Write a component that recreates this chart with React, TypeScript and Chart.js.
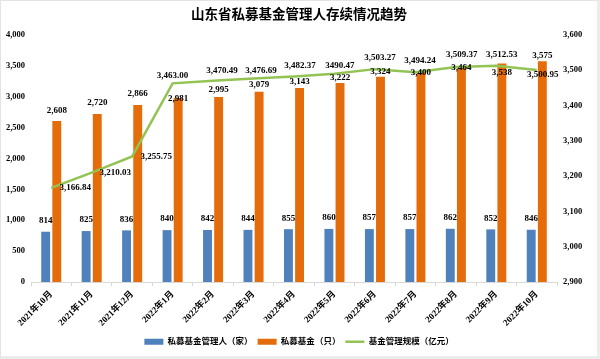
import React, { useEffect, useRef } from 'react';
import { Chart, registerables } from 'chart.js';

Chart.register(...registerables);

const categories = [
  '2021年10月', '2021年11月', '2021年12月', '2022年1月', '2022年2月', '2022年3月', '2022年4月',
  '2022年5月', '2022年6月', '2022年7月', '2022年8月', '2022年9月', '2022年10月',
];
const managers = [814, 825, 836, 840, 842, 844, 855, 860, 857, 857, 862, 852, 846];
const funds = [2608, 2720, 2866, 2981, 2995, 3079, 3143, 3222, 3324, 3400, 3464, 3538, 3575];
const fundScale = [3166.84, 3210.03, 3255.75, 3463.0, 3470.49, 3476.69, 3482.37, 3490.47, 3503.27, 3494.24, 3509.37, 3512.53, 3500.95];
const fundScaleLabels = ['3,166.84', '3,210.03', '3,255.75', '3,463.00', '3,470.49', '3,476.69', '3,482.37', '3490.47', '3,503.27', '3,494.24', '3,509.37', '3,512.53', '3,500.95'];
const legendNames = ['私募基金管理人（家）', '私募基金（只）', '基金管理规模（亿元）'];
const titleText = '山东省私募基金管理人存续情况趋势';

// label placement (style)
const fundLabelDy = [-10.5, -11, -11, 1, -7, -7.5, -6, -5.5, -5, 1, 0, 9, -6];
const lineLabelDx = [24, 23.5, 24, 0, 9, 7.5, 6, 5.5, 5, 4.5, 6, 5.5, 6];
const lineLabelDy = [0, 0, 0, -8, -10, -8, -10.5, -8, -11, -12, -12, -11, 5];

const BLUE = '#4F81BD';
const ORANGE = '#E46C0A';
const GREEN = '#92C353';
const FONT = '"Liberation Serif", "Noto Sans CJK SC", serif';

const fmt = (v: number) => v.toLocaleString('en-US');

const labelPlugin = {
  id: 'valueLabels',
  afterDatasetsDraw(chart: any) {
    const ctx = chart.ctx;
    ctx.save();
    ctx.font = `bold 9px ${FONT}`;
    ctx.fillStyle = '#000';
    ctx.textAlign = 'center';
    ctx.textBaseline = 'middle';
    chart.getDatasetMeta(1).data.forEach((el: any, i: number) => {
      ctx.fillText(fmt(managers[i]), el.x, el.y - 11);
    });
    chart.getDatasetMeta(2).data.forEach((el: any, i: number) => {
      ctx.fillText(fmt(funds[i]), el.x, el.y + fundLabelDy[i]);
    });
    chart.getDatasetMeta(0).data.forEach((el: any, i: number) => {
      ctx.fillText(fundScaleLabels[i], el.x + lineLabelDx[i], el.y + lineLabelDy[i]);
    });
    ctx.restore();
  },
};

export default function App() {
  const ref = useRef<HTMLCanvasElement>(null);
  useEffect(() => {
    document.body.style.margin = '0';
    const chart = new Chart(ref.current!, {
      type: 'bar',
      data: {
        labels: categories,
        datasets: [
          {
            type: 'line',
            label: legendNames[2],
            data: fundScale,
            yAxisID: 'y1',
            borderColor: GREEN,
            backgroundColor: GREEN,
            borderWidth: 2.5,
            pointRadius: 0,
            tension: 0,
          },
          {
            type: 'bar',
            label: legendNames[0],
            data: managers,
            yAxisID: 'y',
            backgroundColor: BLUE,
            categoryPercentage: 0.55,
            barPercentage: 0.8,
          },
          {
            type: 'bar',
            label: legendNames[1],
            data: funds,
            yAxisID: 'y',
            backgroundColor: ORANGE,
            categoryPercentage: 0.55,
            barPercentage: 0.8,
          },
        ] as any,
      },
      options: {
        animation: false,
        responsive: true,
        maintainAspectRatio: false,
        layout: { padding: { left: 0, right: 0, top: 0, bottom: 0 } },
        plugins: {
          tooltip: { enabled: false },
          title: {
            display: true,
            text: titleText,
            color: '#000',
            font: { family: FONT, size: 13.5, weight: 'bold', lineHeight: 1.2 },
            padding: { top: 6, bottom: 11.8 },
          },
          legend: {
            display: true,
            position: 'bottom',
            labels: {
              usePointStyle: true,
              pointStyleWidth: 19,
              boxHeight: 6,
              padding: 5,
              color: '#000',
              font: { family: FONT, size: 8.5, weight: 'bold' },
              generateLabels: () => [
                { text: legendNames[0], fillStyle: BLUE, strokeStyle: BLUE, lineWidth: 0, pointStyle: 'rect', hidden: false, datasetIndex: 1 },
                { text: legendNames[1], fillStyle: ORANGE, strokeStyle: ORANGE, lineWidth: 0, pointStyle: 'rect', hidden: false, datasetIndex: 2 },
                { text: legendNames[2], fillStyle: GREEN, strokeStyle: GREEN, lineWidth: 2.5, pointStyle: 'line', hidden: false, datasetIndex: 0 },
              ] as any,
            },
          },
        },
        scales: {
          x: {
            grid: { display: true, drawOnChartArea: false, drawTicks: true, tickLength: 4, color: '#d9d9d9', offset: true },
            border: { display: true, color: '#d9d9d9' },
            ticks: {
              autoSkip: false,
              maxRotation: 45,
              minRotation: 45,
              padding: 3,
              color: '#000',
              font: { family: FONT, size: 9, weight: 'bold' },
            },
            afterFit: (s: any) => { s.height = 50.5; },
          },
          y: {
            position: 'left',
            min: 0,
            max: 4000,
            grid: { display: false, drawTicks: false },
            border: { display: false },
            ticks: {
              stepSize: 500,
              padding: 6,
              color: '#000',
              font: { family: FONT, size: 8.5, weight: 'bold' },
              callback: (v: any) => fmt(Number(v)),
            },
            afterFit: (s: any) => { s.width = 30; },
          },
          y1: {
            position: 'right',
            min: 2900,
            max: 3600,
            grid: { display: false, drawTicks: false },
            border: { display: false },
            ticks: {
              stepSize: 100,
              padding: 6,
              color: '#000',
              font: { family: FONT, size: 8.5, weight: 'bold' },
              callback: (v: any) => fmt(Number(v)),
            },
            afterFit: (s: any) => { s.width = 40; },
          },
        },
      } as any,
      plugins: [labelPlugin],
    });
    return () => chart.destroy();
  }, []);

  return (
    <div
      style={{
        width: 596,
        height: 355,
        borderTop: '1px solid #e4e4e4',
        borderLeft: '1px solid #e4e4e4',
        borderRight: '3px solid #ececec',
        borderBottom: '3px solid #ececec',
        background: '#fff',
        position: 'relative',
      }}
    >
      <canvas ref={ref} />
    </div>
  );
}
